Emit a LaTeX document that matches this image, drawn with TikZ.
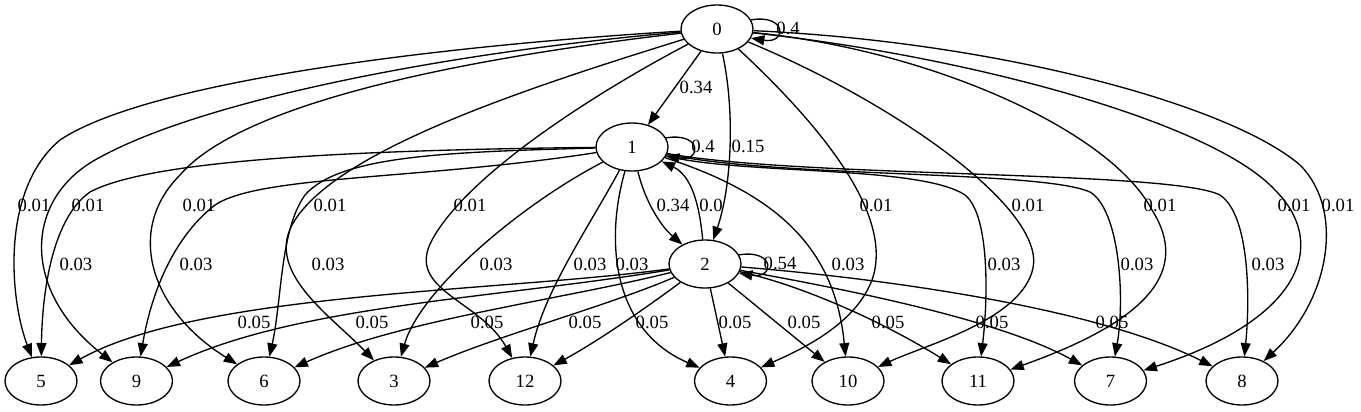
\documentclass[tikz,border=0pt]{standalone}
\usepackage{fontspec}
\setmainfont{Liberation Serif}
\usetikzlibrary{shapes.geometric,arrows.meta}
\begin{document}
\begin{tikzpicture}[x=0.75pt,y=-0.75pt,
  st/.style={ellipse,draw,line width=1pt,minimum width=54pt,minimum height=36pt,inner sep=0pt,font=\fontsize{14}{16}\selectfont},
  edge/.style={draw,line width=1pt,-{Triangle[length=10pt,width=7.5pt]}},
  lbl/.style={font=\fontsize{14}{16}\selectfont,inner sep=0pt}]
\useasboundingbox (0,0) rectangle (1361,411);
% nodes
\node[st] (n0) at (717,29) {0};
\node[st] (n1) at (632,147) {1};
\node[st] (n2) at (705,264) {2};
\node[st] (n5) at (41,381) {5};
\node[st] (n9) at (136.5,381) {9};
\node[st] (n6) at (264,381) {6};
\node[st] (n3) at (394,381) {3};
\node[st] (n12) at (525,381) {12};
\node[st] (n4) at (730.5,381) {4};
\node[st] (n10) at (848,381) {10};
\node[st] (n11) at (978,381) {11};
\node[st] (n7) at (1110.5,381) {7};
\node[st] (n8) at (1242,381) {8};
% self loops
\draw[edge] (n0.15) .. controls +(36,-6) and +(36,6) .. (n0.-15) node[lbl,at={(788,28)}] {0.4};
\draw[edge] (n1.15) .. controls +(36,-6) and +(36,6) .. (n1.-15) node[lbl,at={(703,146)}] {0.4};
\draw[edge] (n2.15) .. controls +(36,-6) and +(36,6) .. (n2.-15) node[lbl,at={(780,263)}] {0.54};
% 0 -> 1, 2
\draw[edge] (n0) -- (n1) node[lbl,at={(696,87)}] {0.34};
\draw[edge] (n0) .. controls (735,110) and (732,185) .. (n2) node[lbl,at={(748,146)}] {0.15};
% 1 <-> 2
\draw[edge] (n1) .. controls (646,205) and (663,228) .. (n2) node[lbl,at={(673,205)}] {0.34};
\draw[edge] (n2) .. controls (699,200) and (690,175) .. (n1) node[lbl,at={(711,205)}] {0.0};
% 0 -> bottom
\draw[edge] (n0) .. controls (450,45) and (150,80) .. (60,140) .. controls (0,190) and (10,300) .. (n5) node[lbl,at={(34,205)}] {0.01};
\draw[edge] (n0) .. controls (450,52) and (200,100) .. (95,160) .. controls (25,200) and (20,290) .. (n9) node[lbl,at={(88,205)}] {0.01};
\draw[edge] (n0) .. controls (450,60) and (240,105) .. (180,175) .. controls (125,230) and (150,310) .. (n6) node[lbl,at={(199,205)}] {0.01};
\draw[edge] (n0) .. controls (520,90) and (340,150) .. (295,220) .. controls (262,270) and (330,315) .. (n3) node[lbl,at={(330,205)}] {0.01};
\draw[edge] (n0) .. controls (610,85) and (470,170) .. (432,240) .. controls (405,290) and (480,300) .. (n12) node[lbl,at={(470,205)}] {0.01};
\draw[edge] (n0) .. controls (820,125) and (895,215) .. (872,280) .. controls (855,325) and (800,350) .. (n4) node[lbl,at={(876,205)}] {0.01};
\draw[edge] (n0) .. controls (900,105) and (1045,210) .. (1033,268) .. controls (1022,320) and (925,345) .. (n10) node[lbl,at={(1028,205)}] {0.01};
\draw[edge] (n0) .. controls (930,50) and (1110,130) .. (1152,210) .. controls (1190,270) and (1150,320) .. (n11) node[lbl,at={(1160,205)}] {0.01};
\draw[edge] (n0) .. controls (960,55) and (1210,120) .. (1275,190) .. controls (1330,245) and (1300,320) .. (n7) node[lbl,at={(1294,205)}] {0.01};
\draw[edge] (n0) .. controls (1000,42) and (1230,105) .. (1300,165) .. controls (1345,210) and (1330,300) .. (n8) node[lbl,at={(1338,205)}] {0.01};
% 1 -> bottom
\draw[edge] (n1) .. controls (350,150) and (150,160) .. (90,192) .. controls (50,220) and (42,300) .. (n5) node[lbl,at={(76,264)}] {0.03};
\draw[edge] (n1) .. controls (420,180) and (260,175) .. (215,205) .. controls (170,240) and (150,300) .. (n9) node[lbl,at={(196,264)}] {0.03};
\draw[edge] (n1) .. controls (450,152) and (340,155) .. (305,195) .. controls (280,230) and (282,300) .. (n6) node[lbl,at={(328,264)}] {0.03};
\draw[edge] (n1) .. controls (520,205) and (420,290) .. (n3) node[lbl,at={(496,264)}] {0.03};
\draw[edge] (n1) .. controls (590,225) and (545,290) .. (n12) node[lbl,at={(590,264)}] {0.03};
\draw[edge] (n1) .. controls (605,240) and (612,330) .. (n4) node[lbl,at={(632,264)}] {0.03};
\draw[edge] (n1) .. controls (780,195) and (835,250) .. (n10) node[lbl,at={(848,264)}] {0.03};
\draw[edge] (n1) .. controls (740,175) and (920,165) .. (965,195) .. controls (990,215) and (988,300) .. (n11) node[lbl,at={(1004,264)}] {0.03};
\draw[edge] (n1) .. controls (780,178) and (1040,170) .. (1090,192) .. controls (1120,210) and (1125,300) .. (n7) node[lbl,at={(1137,264)}] {0.03};
\draw[edge] (n1) .. controls (800,178) and (1170,170) .. (1220,195) .. controls (1250,215) and (1250,300) .. (n8) node[lbl,at={(1268,264)}] {0.03};
% 2 -> bottom
\draw[edge] (n2) .. controls (500,292) and (200,292) .. (n5) node[lbl,at={(254,322)}] {0.05};
\draw[edge] (n2) .. controls (500,298) and (300,305) .. (n9) node[lbl,at={(372,322)}] {0.05};
\draw[edge] (n2) .. controls (560,300) and (400,320) .. (n6) node[lbl,at={(487,322)}] {0.05};
\draw[edge] (n2) .. controls (610,305) and (500,335) .. (n3) node[lbl,at={(585,322)}] {0.05};
\draw[edge] (n2) .. controls (650,305) and (600,340) .. (n12) node[lbl,at={(652,322)}] {0.05};
\draw[edge] (n2) -- (n4) node[lbl,at={(735,322)}] {0.05};
\draw[edge] (n2) -- (n10) node[lbl,at={(804,322)}] {0.05};
\draw[edge] (n2) .. controls (800,285) and (880,320) .. (n11) node[lbl,at={(888,322)}] {0.05};
\draw[edge] (n2) .. controls (850,290) and (1000,320) .. (n7) node[lbl,at={(992,322)}] {0.05};
\draw[edge] (n2) .. controls (900,280) and (1100,310) .. (n8) node[lbl,at={(1112,322)}] {0.05};
\end{tikzpicture}
\end{document}
